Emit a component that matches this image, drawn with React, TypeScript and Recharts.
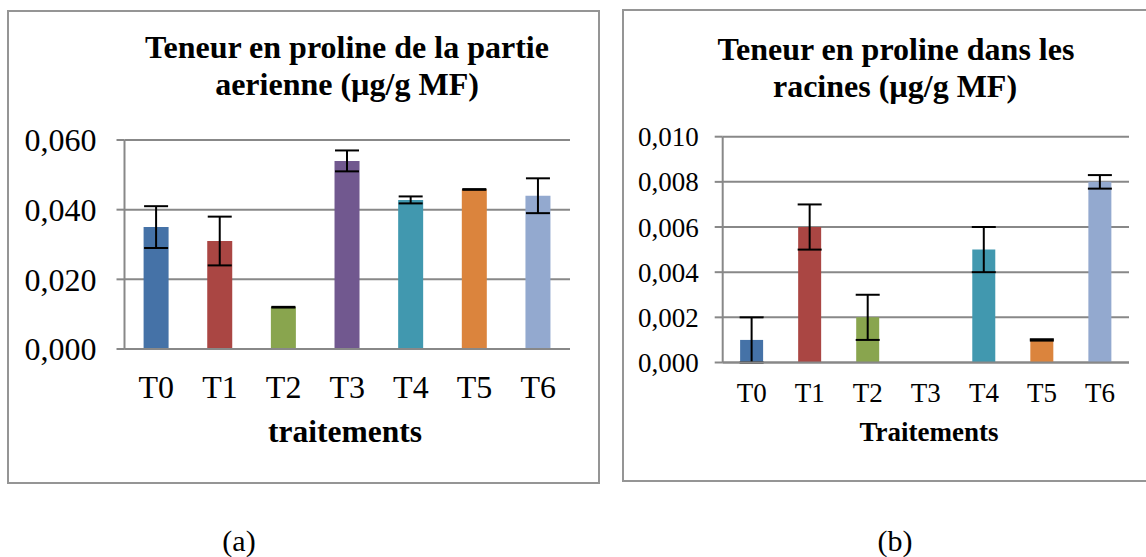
import React from 'react';
import { BarChart, Bar, XAxis, YAxis, CartesianGrid, ErrorBar, Cell } from 'recharts';

const categories = ['T0', 'T1', 'T2', 'T3', 'T4', 'T5', 'T6'];
const barColors = ['#4572A7', '#AA4643', '#89A54E', '#71588F', '#4198AF', '#DB843D', '#93A9CF'];

const aerialValues = [0.035, 0.031, 0.012, 0.054, 0.0428, 0.0458, 0.044];
const aerialErrors = [0.006, 0.007, 0.0001, 0.003, 0.001, 0.0001, 0.005];
const aerialTicks = [0, 0.02, 0.04, 0.06];

const rootValues = [0.001, 0.006, 0.002, 0, 0.005, 0.001, 0.008];
const rootErrors = [0.001, 0.001, 0.001, 0, 0.001, 0.00003, 0.0003];
const rootTicks = [0, 0.002, 0.004, 0.006, 0.008, 0.01];

const aerialData = categories.map((name, i) => ({ name, value: aerialValues[i], err: aerialErrors[i] }));
const rootData = categories.map((name, i) => ({ name, value: rootValues[i], err: rootErrors[i] }));

const GRAY = '#888888';
const SERIF = '"Liberation Serif", "Times New Roman", serif';
const fmt = (v: number) => v.toFixed(3).replace('.', ',');

export default function App() {
  return (
    <div style={{ position: 'absolute', left: 0, top: 0, width: 1146, height: 557, overflow: 'hidden', background: '#fff' }}>
      {/* panel borders */}
      <div style={{ position: 'absolute', left: 7, top: 10, width: 593, height: 474, border: '2px solid #959595', boxSizing: 'border-box' }} />
      <div style={{ position: 'absolute', left: 622, top: 9, width: 600, height: 473, border: '2px solid #959595', boxSizing: 'border-box' }} />

      {/* left chart */}
      <div style={{ position: 'absolute', left: 0, top: 0 }}>
        <BarChart width={600} height={480} data={aerialData} margin={{ top: 140, right: 30, bottom: 91, left: 0 }} barCategoryGap="30%">
          <CartesianGrid vertical={false} stroke={GRAY} strokeWidth={2} />
          <XAxis dataKey="name" interval={0} tickLine={false} tickSize={0} tickMargin={26} height={40}
            axisLine={{ stroke: GRAY, strokeWidth: 2 }}
            tick={{ fontSize: 32, fill: '#000', fontFamily: SERIF }} />
          <YAxis width={124.5} domain={[0, 0.06]} ticks={aerialTicks} tickFormatter={fmt} tickSize={8} tickMargin={20}
            axisLine={{ stroke: GRAY, strokeWidth: 2 }} tickLine={{ stroke: GRAY, strokeWidth: 2 }}
            tick={{ fontSize: 32, fill: '#000', fontFamily: SERIF }} />
          <Bar dataKey="value" isAnimationActive={false}>
            {aerialData.map((d, i) => <Cell key={d.name} fill={barColors[i]} />)}
            <ErrorBar dataKey="err" width={12} stroke="#000" strokeWidth={2} isAnimationActive={false} />
          </Bar>
        </BarChart>
      </div>

      {/* right chart */}
      <div style={{ position: 'absolute', left: 600, top: 0 }}>
        <BarChart width={546} height={480} data={rootData} margin={{ top: 136.7, right: 17, bottom: 77.5, left: 0 }} barCategoryGap="30%">
          <CartesianGrid vertical={false} stroke={GRAY} strokeWidth={2} />
          <XAxis dataKey="name" interval={0} tickLine={false} tickSize={0} tickMargin={20} height={40}
            axisLine={{ stroke: GRAY, strokeWidth: 2 }}
            tick={{ fontSize: 27, fill: '#000', fontFamily: SERIF }} />
          <YAxis width={122.7} domain={[0, 0.01]} ticks={rootTicks} tickFormatter={fmt} tickSize={8} tickMargin={16}
            axisLine={{ stroke: GRAY, strokeWidth: 2 }} tickLine={{ stroke: GRAY, strokeWidth: 2 }}
            tick={{ fontSize: 27, fill: '#000', fontFamily: SERIF }} />
          <Bar dataKey="value" isAnimationActive={false}>
            {rootData.map((d, i) => <Cell key={d.name} fill={barColors[i]} />)}
            <ErrorBar dataKey="err" width={12} stroke="#000" strokeWidth={2} isAnimationActive={false} />
          </Bar>
        </BarChart>
      </div>

      {/* texts */}
      <svg width={1146} height={557} style={{ position: 'absolute', left: 0, top: 0, pointerEvents: 'none' }}>
        <g fontFamily={SERIF} fill="#000" textAnchor="middle">
          <text x={347} y={58} fontSize={32} fontWeight="bold">Teneur en proline de la partie</text>
          <text x={347} y={95} fontSize={32} fontWeight="bold">aerienne (µg/g MF)</text>
          <text x={345} y={442} fontSize={31.5} fontWeight="bold">traitements</text>
          <text x={896} y={60} fontSize={32} fontWeight="bold">Teneur en proline dans les</text>
          <text x={895} y={97} fontSize={32} fontWeight="bold">racines (µg/g MF)</text>
          <text x={929} y={441} fontSize={27} fontWeight="bold">Traitements</text>
          <text x={239} y={551} fontSize={30}>(a)</text>
          <text x={895} y={551} fontSize={30}>(b)</text>
        </g>
      </svg>
    </div>
  );
}
